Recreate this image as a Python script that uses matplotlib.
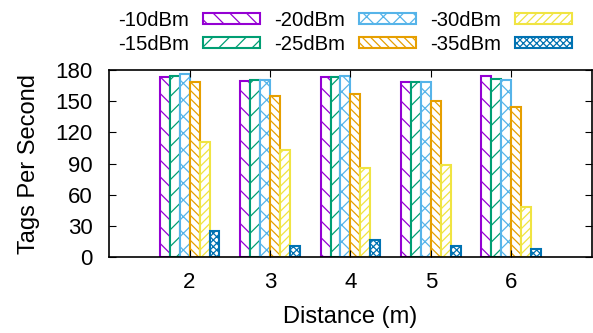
import numpy as np
import matplotlib
matplotlib.use('Agg')
import matplotlib.pyplot as plt

plt.rcParams['font.family'] = ['Liberation Sans', 'DejaVu Sans']
plt.rcParams['font.size'] = 16
plt.rcParams['hatch.linewidth'] = 0.9

distances = [2, 3, 4, 5, 6]
labels = ['-10dBm', '-15dBm', '-20dBm', '-25dBm', '-30dBm', '-35dBm']
tps_10 = [173, 169, 173, 168, 174]
tps_15 = [174, 170, 173, 168, 171]
tps_20 = [176, 170, 174, 168, 170]
tps_25 = [168, 155, 157, 150, 144]
tps_30 = [111, 103, 86, 89, 48]
tps_35 = [25, 11, 16, 11, 8]
series = [tps_10, tps_15, tps_20, tps_25, tps_30, tps_35]

colors = ['#9400D3', '#009E73', '#56B4E9', '#E69F00', '#F0E442', '#0072B2']
hatches = ['\\\\', '//', 'xx', '\\\\\\\\', '////', 'xxxxx']

fig = plt.figure(figsize=(5.93, 3.33), dpi=100)
ax = fig.add_axes([0.184, 0.228, 0.814, 0.562])

w = 0.124
x = np.array(distances)
handles = []
for i, (vals, c, h, lab) in enumerate(zip(series, colors, hatches, labels)):
    b = ax.bar(x + (i - 2.5) * w, vals, w, facecolor='white', edgecolor=c,
               hatch=h, linewidth=1.5, label=lab)
    handles.append(b)

ax.set_xlim(1, 7)
ax.set_ylim(0, 180)
ax.set_xticks(distances)
ax.set_yticks(range(0, 181, 30))
ax.tick_params(direction='in', top=True, right=True, length=5)
ax.tick_params(axis='x', pad=11)
ax.tick_params(axis='y', pad=12)
for s in ax.spines.values():
    s.set_linewidth(1.2)
ax.set_xlabel('Distance (m)', fontsize=17, labelpad=9)
ax.set_ylabel('Tags Per Second', fontsize=17, labelpad=11)

fig.legend(handles=handles, ncol=3, markerfirst=False, frameon=False,
           loc='upper right', bbox_to_anchor=(0.985, 1.005), fontsize=14.6,
           handlelength=2.81, handleheight=0.5, handletextpad=0.69,
           columnspacing=0.69, labelspacing=0.25, borderaxespad=0.2)

fig.savefig('out.png', dpi=100)
